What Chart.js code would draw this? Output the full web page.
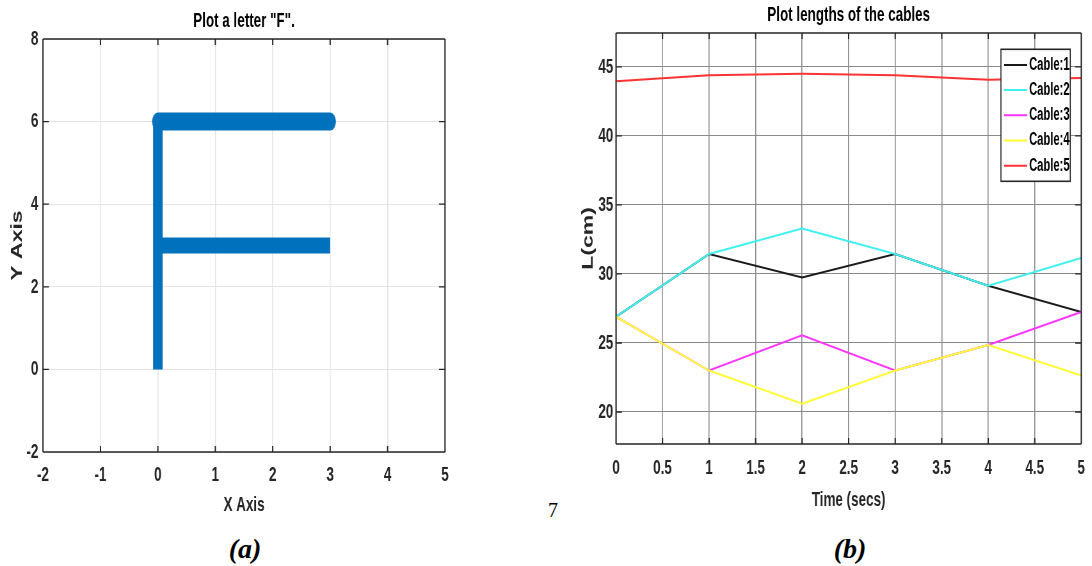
<!DOCTYPE html>
<html>
<head>
<meta charset="utf-8">
<script src="https://cdn.jsdelivr.net/npm/chart.js@4/dist/chart.umd.min.js"></script>
<style>
  html, body { margin: 0; padding: 0; background: #fff; }
  body { position: relative; width: 1092px; height: 566px; overflow: hidden; }
  /* both figure panels are drawn wide and squeezed horizontally */
  .panel { position: absolute; top: 0; transform-origin: 0 0; transform: scaleX(0.64); }
  #panelA { left: 0; width: 719px; height: 530px; }
  #panelB { left: 560px; width: 832px; height: 530px; }
  .cap { position: absolute; font-family: "Liberation Serif", "Times New Roman", serif;
         font-weight: bold; font-style: italic; font-size: 28px; line-height: 1;
         transform: translate(-50%, -50%); white-space: nowrap; }
  #capA { left: 245px; top: 549px; }
  #capB { left: 850px; top: 549px; }
  #pageNo { position: absolute; left: 553px; top: 510px; font-family: "Liberation Serif", serif;
            font-size: 20px; line-height: 1; transform: translate(-50%, -50%); }
</style>
</head>
<body>
<div class="panel" id="panelA"><canvas id="chartA" width="719" height="530"></canvas></div>
<div class="panel" id="panelB"><canvas id="chartB" width="832" height="530"></canvas></div>
<div id="pageNo">7</div>
<div class="cap" id="capA">(a)</div>
<div class="cap" id="capB">(b)</div>
<script>
const SQUEEZE = 0.64;
const FONT = '"Liberation Sans", Arial, Helvetica, sans-serif';
const INK = '#262626';

// ---- panel (a): the letter F ----
const fStemX = [0, 0];
const fStemY = [0, 6];
const fTopX = [0, 3];
const fTopY = [6, 6];
const fMidX = [0, 3];
const fMidY = [3, 3];
const fXTicks = [-2, -1, 0, 1, 2, 3, 4, 5];
const fYTicks = [-2, 0, 2, 4, 6, 8];

// ---- panel (b): cable lengths over time ----
const timeSecs = [0, 1, 2, 3, 4, 5];
const cable1 = [26.9, 31.45, 29.75, 31.45, 29.15, 27.25];
const cable2 = [26.9, 31.45, 33.3, 31.45, 29.15, 31.15];
const cable3 = [26.9, 23.0, 25.55, 23.0, 24.85, 27.25];
const cable4 = [26.9, 23.0, 20.6, 23.0, 24.85, 22.65];
const cable5 = [43.97, 44.4, 44.5, 44.4, 44.07, 44.2];
const cableNames = ['Cable:1', 'Cable:2', 'Cable:3', 'Cable:4', 'Cable:5'];
const cableColors = ['#1a1a1a', '#3ff0f0', '#ff33ff', '#ffff33', '#ff3333'];
const timeTicks = [0, 0.5, 1, 1.5, 2, 2.5, 3, 3.5, 4, 4.5, 5];
const lengthTicks = [20, 25, 30, 35, 40, 45];

const pts = (xs, ys) => xs.map((x, i) => ({ x, y: ys[i] }));
const useTicks = list => scale => { scale.ticks = list.map(v => ({ value: v })); };
const bold = size => ({ family: FONT, size, weight: 'bold' });

// boxed axes with inward tick marks on all four sides
const boxAxes = {
  id: 'boxAxes',
  afterDatasetsDraw(chart, args, o) {
    const { ctx, chartArea: a, scales: { x, y } } = chart;
    ctx.save();
    ctx.strokeStyle = o.color;
    ctx.lineCap = 'butt';
    ctx.lineWidth = o.vWidth;
    ctx.beginPath();
    x.ticks.forEach(t => {
      const px = x.getPixelForValue(t.value);
      ctx.moveTo(px, a.bottom); ctx.lineTo(px, a.bottom - o.len);
      ctx.moveTo(px, a.top); ctx.lineTo(px, a.top + o.len);
    });
    ctx.moveTo(a.left, a.top); ctx.lineTo(a.left, a.bottom);
    ctx.moveTo(a.right, a.top); ctx.lineTo(a.right, a.bottom);
    ctx.stroke();
    ctx.lineWidth = o.hWidth;
    ctx.beginPath();
    y.ticks.forEach(t => {
      const py = y.getPixelForValue(t.value);
      ctx.moveTo(a.left, py); ctx.lineTo(a.left + o.len / SQUEEZE, py);
      ctx.moveTo(a.right, py); ctx.lineTo(a.right - o.len / SQUEEZE, py);
    });
    ctx.moveTo(a.left, a.top); ctx.lineTo(a.right, a.top);
    ctx.moveTo(a.left, a.bottom); ctx.lineTo(a.right, a.bottom);
    ctx.stroke();
    ctx.restore();
  }
};

// framed legend in the upper right corner of the plot
const framedLegend = {
  id: 'framedLegend',
  afterDraw(chart, args, o) {
    const { ctx, chartArea: a } = chart;
    const sets = chart.data.datasets;
    const right = a.right - o.marginRight;
    const left = right - o.width;
    const top = a.top + o.marginTop;
    const height = o.pad * 2 + o.rowHeight * sets.length;
    ctx.save();
    ctx.fillStyle = '#fff';
    ctx.fillRect(left, top, o.width, height);
    ctx.strokeStyle = INK;
    ctx.lineWidth = 1.6;
    ctx.strokeRect(left, top, o.width, height);
    ctx.font = `bold ${o.fontSize}px ${FONT}`;
    ctx.textAlign = 'left';
    ctx.textBaseline = 'middle';
    sets.forEach((ds, i) => {
      const cy = top + o.pad + o.rowHeight * (i + 0.5);
      ctx.strokeStyle = ds.borderColor;
      ctx.lineWidth = 2;
      ctx.beginPath();
      ctx.moveTo(left + o.lineStart, cy);
      ctx.lineTo(left + o.lineEnd, cy);
      ctx.stroke();
      ctx.fillStyle = '#000';
      ctx.fillText(ds.label, left + o.textStart, cy);
    });
    ctx.restore();
  }
};

const F_BLUE = '#0072BD';

new Chart(document.getElementById('chartA'), {
  type: 'line',
  data: {
    datasets: [
      { data: pts(fStemX, fStemY), borderColor: F_BLUE, borderWidth: 15, borderCapStyle: 'butt' },
      { data: pts(fTopX, fTopY), borderColor: F_BLUE, borderWidth: 18, borderCapStyle: 'round' },
      { data: pts(fMidX, fMidY), borderColor: F_BLUE, borderWidth: 16, borderCapStyle: 'butt' }
    ]
  },
  options: {
    responsive: false,
    animation: false,
    events: [],
    layout: { padding: { left: 0, right: 23.7, top: 0, bottom: 0 } },
    elements: { point: { radius: 0 }, line: { tension: 0 } },
    plugins: {
      legend: { display: false },
      tooltip: { enabled: false },
      title: {
        display: true, fullSize: false, text: 'Plot a letter "F".',
        color: '#000', font: bold(21), padding: { top: 8.4, bottom: 5.4 }
      },
      boxAxes: { color: INK, len: 6, vWidth: 2, hWidth: 1.3 }
    },
    scales: {
      x: {
        type: 'linear', min: -2, max: 5,
        afterBuildTicks: useTicks(fXTicks),
        afterFit: s => { s.height = 78; },
        grid: { color: '#e4e4e4', lineWidth: 1.6, drawTicks: false },
        border: { display: false },
        ticks: { color: INK, font: bold(21), padding: 10.4, maxRotation: 0, autoSkip: false, callback: v => String(v) },
        title: { display: true, text: 'X Axis', color: INK, font: bold(21), padding: { top: 0, bottom: 12.4 } }
      },
      y: {
        type: 'linear', min: -2, max: 8,
        afterBuildTicks: useTicks(fYTicks),
        afterFit: s => { s.width = 67.2; },
        grid: { color: '#e4e4e4', lineWidth: 1, drawTicks: false },
        border: { display: false },
        ticks: { color: INK, font: bold(21), padding: 7.3, autoSkip: false, callback: v => String(v) },
        title: { display: true, text: 'Y Axis', color: INK, font: bold(23), padding: { top: 14, bottom: 0 } }
      }
    }
  },
  plugins: [boxAxes]
});

const cableSeries = [cable1, cable2, cable3, cable4, cable5];

new Chart(document.getElementById('chartB'), {
  type: 'line',
  data: {
    datasets: cableSeries.map((vals, i) => ({
      label: cableNames[i],
      data: pts(timeSecs, vals),
      borderColor: cableColors[i],
      borderWidth: 2,
      order: cableSeries.length - i
    }))
  },
  options: {
    responsive: false,
    animation: false,
    events: [],
    layout: { padding: { left: 0, right: 8.6, top: 0, bottom: 0 } },
    elements: { point: { radius: 0 }, line: { tension: 0 } },
    plugins: {
      legend: { display: false },
      tooltip: { enabled: false },
      title: {
        display: true, fullSize: false, text: 'Plot lengths of the cables',
        color: '#000', font: bold(21), padding: { top: 2.4, bottom: 5.4 }
      },
      boxAxes: { color: INK, len: 6, vWidth: 2, hWidth: 1.3 },
      framedLegend: {
        marginRight: 17.2, marginTop: 16.3, width: 108.3, pad: 3, rowHeight: 25.2,
        lineStart: 5, lineEnd: 41, textStart: 44, fontSize: 17.5
      }
    },
    scales: {
      x: {
        type: 'linear', min: 0, max: 5,
        afterBuildTicks: useTicks(timeTicks),
        afterFit: s => { s.height = 86; },
        grid: { color: '#8a8a8a', lineWidth: 1.6, drawTicks: false },
        border: { display: false },
        ticks: { color: INK, font: bold(21), padding: 11.7, maxRotation: 0, autoSkip: false, callback: v => String(v) },
        title: { display: true, text: 'Time (secs)', color: INK, font: bold(21), padding: { top: 0, bottom: 17.4 } }
      },
      y: {
        type: 'linear', min: 17.68, max: 47.46,
        afterBuildTicks: useTicks(lengthTicks),
        afterFit: s => { s.width = 87.5; },
        grid: { color: '#8a8a8a', lineWidth: 1, drawTicks: false },
        border: { display: false },
        ticks: { color: INK, font: bold(21), padding: 4.2, autoSkip: false, callback: v => String(v) },
        title: { display: true, text: 'L(cm)', color: INK, font: bold(23), padding: { top: 31, bottom: 0 } }
      }
    }
  },
  plugins: [boxAxes, framedLegend]
});
</script>
</body>
</html>
